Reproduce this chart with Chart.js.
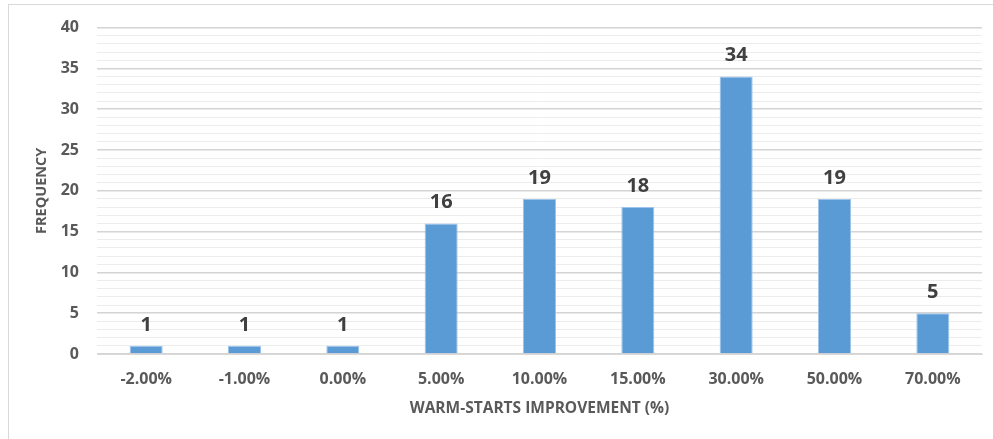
<!DOCTYPE html>
<html>
<head>
<meta charset="utf-8">
<script src="https://cdn.jsdelivr.net/npm/chart.js@4"></script>
<style>
  html, body { margin: 0; padding: 0; background: #fff; }
  #wrap { position: relative; width: 993px; height: 439px; }
  #frame { position: absolute; left: 8px; top: 4px; right: -2px; bottom: -2px;
           border-left: 1px solid #d9d9d9; border-top: 1px solid #d9d9d9; pointer-events: none; }
  canvas { position: absolute; left: 0; top: 0; }
</style>
</head>
<body>
<div id="wrap">
  <canvas id="c" width="993" height="439"></canvas>
  <div id="frame"></div>
</div>
<script>
// Histogram of warm-start improvement buckets
const categories = ['-2.00%', '-1.00%', '0.00%', '5.00%', '10.00%', '15.00%', '30.00%', '50.00%', '70.00%'];
const frequency = [1, 1, 1, 16, 19, 18, 34, 19, 5];
const yMin = 0;
const yMax = 40;
const yMajorStep = 5;

const FONT = "'Open Sans', 'Liberation Sans', sans-serif";

// Draws the count above every bar
const barValueLabels = {
  id: 'barValueLabels',
  afterDatasetsDraw(chart) {
    const ctx = chart.ctx;
    const meta = chart.getDatasetMeta(0);
    ctx.save();
    ctx.font = "bold 20px " + FONT;
    ctx.fillStyle = '#404040';
    ctx.textAlign = 'center';
    ctx.textBaseline = 'middle';
    meta.data.forEach((bar, i) => {
      const v = chart.data.datasets[0].data[i];
      ctx.fillText(String(v), bar.x, bar.y - 21);
    });
    ctx.restore();
  }
};

new Chart(document.getElementById('c'), {
  type: 'bar',
  data: {
    labels: categories,
    datasets: [{
      data: frequency,
      backgroundColor: '#5b9bd5',
      borderColor: '#9fc4ea',
      borderWidth: 1,
      borderSkipped: 'bottom',
      barPercentage: 0.336,
      categoryPercentage: 1
    }]
  },
  options: {
    responsive: false,
    animation: false,
    devicePixelRatio: 1,
    layout: { padding: { left: 8, right: 11, top: 26, bottom: 0 } },
    plugins: {
      legend: { display: false },
      tooltip: { enabled: false }
    },
    scales: {
      x: {
        grid: { display: false, drawTicks: false },
        border: { display: true, color: '#d9d9d9', width: 1 },
        ticks: {
          color: '#595959',
          font: { family: FONT, size: 16, weight: 'bold' },
          padding: 16,
          maxRotation: 0,
          autoSkip: false
        },
        title: {
          display: true,
          text: 'WARM-STARTS IMPROVEMENT (%)',
          color: '#595959',
          font: { family: FONT, size: 15.5, weight: 'bold' },
          padding: { top: 0, bottom: 21 }
        },
        afterFit(scale) { scale.height = 85; }
      },
      y: {
        min: yMin,
        max: yMax,
        grid: {
          drawTicks: false,
          color: c => (c.tick && c.tick.value % yMajorStep === 0) ? '#d4d4d4' : '#ececec',
          lineWidth: c => (c.tick && c.tick.value % yMajorStep === 0) ? 1.5 : 1
        },
        border: { display: false },
        ticks: {
          stepSize: 1,
          autoSkip: false,
          color: '#595959',
          font: { family: FONT, size: 16, weight: 'bold' },
          padding: 18,
          callback: v => (v % yMajorStep === 0 ? String(v) : '')
        },
        title: {
          display: true,
          text: 'FREQUENCY',
          color: '#595959',
          font: { family: FONT, size: 14.5, weight: 'bold' },
          padding: { top: 25, bottom: 0 }
        },
        afterFit(scale) { scale.width = 89; }
      }
    }
  },
  plugins: [barValueLabels]
});
</script>
</body>
</html>
